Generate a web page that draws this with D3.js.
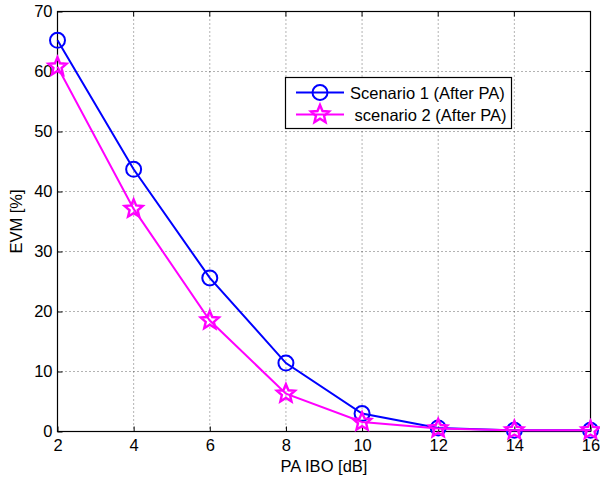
<!DOCTYPE html>
<html><head><meta charset="utf-8">
<script src="https://cdn.jsdelivr.net/npm/d3@7"></script>
<style>body{margin:0;background:#fff}svg{display:block}text{font-family:"Liberation Sans",Arial,sans-serif}</style>
</head><body>
<svg id="c" width="600" height="478"></svg>
<script>
const xValues = [2, 4, 6, 8, 10, 12, 14, 16];
const scenario1 = [65.2, 43.7, 25.6, 11.4, 3.0, 0.6, 0.2, 0.2];
const scenario2 = [60.8, 37.1, 18.5, 6.3, 1.6, 0.5, 0.2, 0.2];
const xTicks = [2, 4, 6, 8, 10, 12, 14, 16];
const yTicks = [0, 10, 20, 30, 40, 50, 60, 70];
const seriesNames = ["Scenario 1 (After PA)", " scenario 2 (After PA)"];

const svg = d3.select("#c");
const L = 57.5, R = 590.5, T = 11.5, B = 431.5;
const x = d3.scaleLinear().domain([2, 16]).range([L, R]);
const y = d3.scaleLinear().domain([0, 70]).range([B, T]);
const FS = 16.5;

// grid
const g = svg.append("g");
xTicks.forEach(t => g.append("line").attr("x1", x(t)).attr("x2", x(t)).attr("y1", T).attr("y2", B)
  .attr("stroke", "#000").attr("stroke-width", 0.6).attr("stroke-dasharray", "1,3"));
yTicks.forEach(t => g.append("line").attr("x1", L).attr("x2", R).attr("y1", y(t)).attr("y2", y(t))
  .attr("stroke", "#000").attr("stroke-width", 0.6).attr("stroke-dasharray", "1,3"));

// frame
svg.append("rect").attr("x", L).attr("y", T).attr("width", R - L).attr("height", B - T)
  .attr("fill", "none").attr("stroke", "#000").attr("stroke-width", 1.2);

// axes
const xa = svg.append("g").attr("transform", `translate(0,${B})`)
  .call(d3.axisBottom(x).tickValues(xTicks).tickSizeInner(-5).tickSizeOuter(0).tickPadding(8));
const ya = svg.append("g").attr("transform", `translate(${L},0)`)
  .call(d3.axisLeft(y).tickValues(yTicks).tickSizeInner(-5).tickSizeOuter(0).tickPadding(5));
[xa, ya].forEach(a => {
  a.select(".domain").remove();
  a.selectAll("line").attr("stroke", "#000");
  a.selectAll("text").attr("font-size", FS).attr("fill", "#000").attr("font-family", "Liberation Sans, Arial, sans-serif");
});
// top/right ticks
xTicks.forEach(t => svg.append("line").attr("x1", x(t)).attr("x2", x(t)).attr("y1", T).attr("y2", T + 5).attr("stroke", "#000"));
yTicks.forEach(t => svg.append("line").attr("x1", R).attr("x2", R - 5).attr("y1", y(t)).attr("y2", y(t)).attr("stroke", "#000"));

svg.append("text").attr("x", (L + R) / 2).attr("y", 471.5).attr("text-anchor", "middle").attr("font-size", FS).text("PA IBO [dB]");
svg.append("text").attr("transform", `translate(22,${(T + B) / 2}) rotate(-90)`).attr("text-anchor", "middle").attr("font-size", FS).text("EVM [%]");

const line = d3.line().x((d, i) => x(xValues[i])).y(d => y(d));
function pentagram(ro) {
  const ri = ro * 0.45, pts = [];
  for (let k = 0; k < 10; k++) {
    const a = -Math.PI / 2 + k * Math.PI / 5, r = k % 2 ? ri : ro;
    pts.push([r * Math.cos(a), r * Math.sin(a)]);
  }
  return "M" + pts.map(p => p[0].toFixed(2) + "," + p[1].toFixed(2)).join("L") + "Z";
}
const star = pentagram(9.5);

function drawSeries(data, color, marker) {
  svg.append("path").datum(data).attr("d", line).attr("fill", "none").attr("stroke", color).attr("stroke-width", 2);
  data.forEach((d, i) => {
    if (marker === "circle") {
      svg.append("circle").attr("cx", x(xValues[i])).attr("cy", y(d)).attr("r", 7.5)
        .attr("fill", "none").attr("stroke", color).attr("stroke-width", 2);
    } else {
      svg.append("path").attr("d", star).attr("transform", `translate(${x(xValues[i])},${y(d)})`)
        .attr("fill", "none").attr("stroke", color).attr("stroke-width", 2.4).attr("stroke-linejoin", "miter");
    }
  });
}
drawSeries(scenario1, "#0000ff", "circle");
drawSeries(scenario2, "#ff00ff", "star");

// legend
const lg = svg.append("g");
lg.append("rect").attr("x", 285.5).attr("y", 77.5).attr("width", 226).attr("height", 51)
  .attr("fill", "#fff").attr("stroke", "#000").attr("stroke-width", 1.2);
const items = [{c: "#0000ff", m: "circle", y: 92.5}, {c: "#ff00ff", m: "star", y: 114.5}];
items.forEach((it, i) => {
  lg.append("line").attr("x1", 296).attr("x2", 344).attr("y1", it.y).attr("y2", it.y).attr("stroke", it.c).attr("stroke-width", 2);
  if (it.m === "circle") lg.append("circle").attr("cx", 320).attr("cy", it.y).attr("r", 7.5).attr("fill", "none").attr("stroke", it.c).attr("stroke-width", 2);
  else lg.append("path").attr("d", star).attr("transform", `translate(320,${it.y})`).attr("fill", "none").attr("stroke", it.c).attr("stroke-width", 2.4);
  lg.append("text").attr("x", 350).attr("y", it.y + 6).attr("font-size", FS).attr("xml:space", "preserve").style("white-space", "pre").text(seriesNames[i]);
});
</script>
</body></html>
